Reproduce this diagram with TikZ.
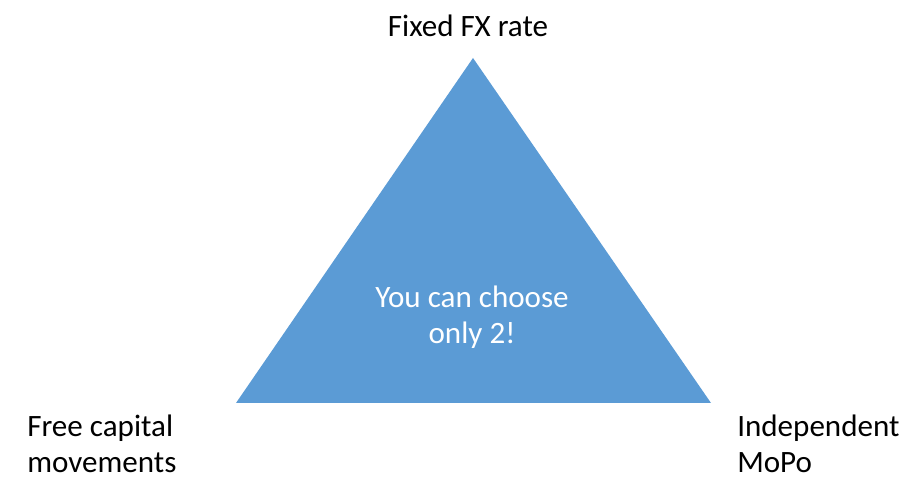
\documentclass[tikz,border=0pt]{standalone}
\usepackage{fontspec}
\setmainfont{Carlito}
\usepackage{tikz}
\usetikzlibrary{positioning}
\definecolor{triblue}{HTML}{5B9BD5}

\begin{document}
\begin{tikzpicture}[x=0.75pt, y=0.75pt, every node/.style={font=\fontsize{23.3}{27}\selectfont, inner sep=0pt}]
  \useasboundingbox (0,0) rectangle (907,481);
  \coordinate (top) at (473,423);
  \coordinate (left) at (236,78);
  \coordinate (right) at (711,78);
  \fill[triblue] (top) -- (left) -- (right) -- cycle;
  \node[anchor=base] (fx) at (468,444) {Fixed FX rate};
  % multi-line nodes: base is the last line
  \node[anchor=base, align=center, text=white] (choose) at (472,137) {You can choose\\only 2!};
  \node[anchor=base west, align=left] (cap) at (27,8) {Free capital\\movements};
  \node[anchor=base west, align=left] (mopo) at (737,8) {Independent\\MoPo};
\end{tikzpicture}
\end{document}
